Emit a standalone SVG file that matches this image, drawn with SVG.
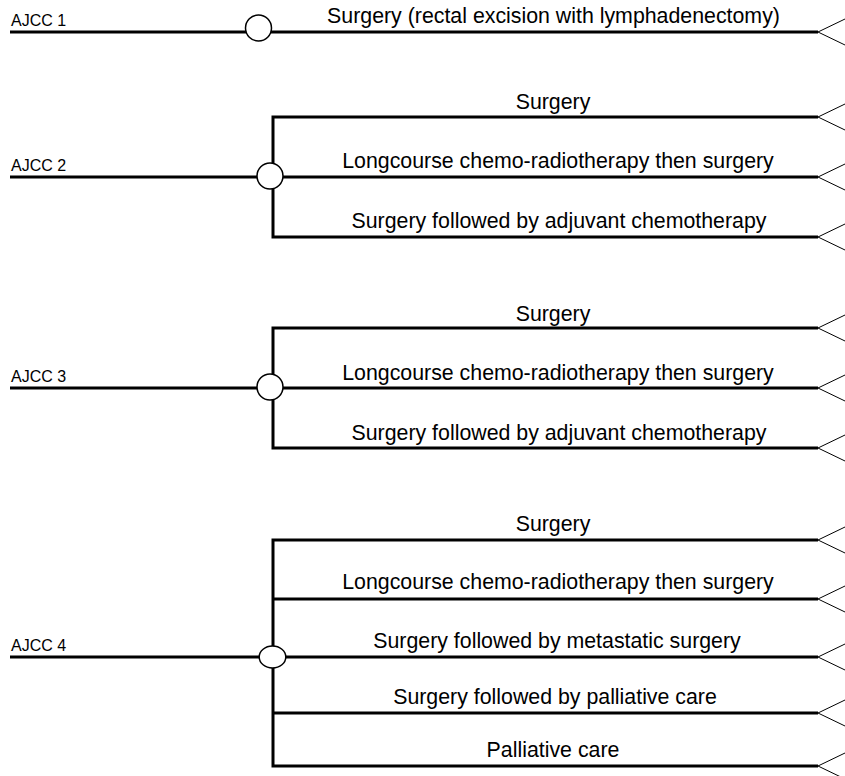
<svg xmlns="http://www.w3.org/2000/svg" width="845" height="776" viewBox="0 0 845 776">
<style>
.ln{stroke:#000;stroke-width:3;fill:none}
.ft{stroke:#000;stroke-width:1;fill:none}
.hub{fill:#fff;stroke:#000;stroke-width:1.5}
.st{font-family:"Liberation Sans",Arial,sans-serif;font-size:16px;fill:#000}
.tx{font-family:"Liberation Sans",Arial,sans-serif;font-size:21.33px;fill:#000;text-anchor:middle}
</style>
<defs>
<path id="foot" class="ft" d="M845,-13 L818,0 L845,13"/>
</defs>
<rect width="845" height="776" fill="#fff"/>
<g id="connectors">
<line class="ln" x1="10" y1="32" x2="818" y2="32"/>
<use href="#foot" y="32"/>
<line class="ln" x1="10" y1="177" x2="818" y2="177"/>
<path class="ln" d="M818,117 H273 V237 H818"/>
<use href="#foot" y="117"/><use href="#foot" y="177"/><use href="#foot" y="237"/>
<line class="ln" x1="10" y1="388" x2="818" y2="388"/>
<path class="ln" d="M818,328 H273 V448 H818"/>
<use href="#foot" y="328"/><use href="#foot" y="388"/><use href="#foot" y="448"/>
<line class="ln" x1="10" y1="657" x2="818" y2="657"/>
<path class="ln" d="M818,540 H273 V766 H818"/>
<line class="ln" x1="273" y1="599" x2="818" y2="599"/>
<line class="ln" x1="273" y1="713" x2="818" y2="713"/>
<use href="#foot" y="540"/><use href="#foot" y="599"/><use href="#foot" y="657"/><use href="#foot" y="713"/><use href="#foot" y="766"/>
</g>
<g id="ajcc1">
<text class="st" x="11" y="26">AJCC 1</text>
<ellipse class="hub" cx="258.5" cy="28" rx="13" ry="13"/>
</g>
<g id="ajcc2">
<text class="st" x="11" y="171">AJCC 2</text>
<ellipse class="hub" cx="270" cy="176" rx="13" ry="13"/>
</g>
<g id="ajcc3">
<text class="st" x="11" y="382">AJCC 3</text>
<ellipse class="hub" cx="270" cy="387" rx="13" ry="13"/>
</g>
<g id="ajcc4">
<text class="st" x="11" y="651">AJCC 4</text>
<ellipse class="hub" cx="272.5" cy="657" rx="13.3" ry="11"/>
</g>
<g id="t1a"><text class="tx" x="553.5" y="23">Surgery (rectal excision with lymphadenectomy)</text></g>
<g id="t2a"><text class="tx" x="553" y="109">Surgery</text></g>
<g id="t2b"><text class="tx" x="558" y="168">Longcourse chemo-radiotherapy then surgery</text></g>
<g id="t2c"><text class="tx" x="559" y="228">Surgery followed by adjuvant chemotherapy</text></g>
<g id="t3a"><text class="tx" x="553" y="321">Surgery</text></g>
<g id="t3b"><text class="tx" x="558" y="380">Longcourse chemo-radiotherapy then surgery</text></g>
<g id="t3c"><text class="tx" x="559" y="440">Surgery followed by adjuvant chemotherapy</text></g>
<g id="t4a"><text class="tx" x="553" y="531">Surgery</text></g>
<g id="t4b"><text class="tx" x="558" y="589">Longcourse chemo-radiotherapy then surgery</text></g>
<g id="t4c"><text class="tx" x="557" y="648">Surgery followed by metastatic surgery</text></g>
<g id="t4d"><text class="tx" x="555" y="704">Surgery followed by palliative care</text></g>
<g id="t4e"><text class="tx" x="553" y="757">Palliative care</text></g>
</svg>
